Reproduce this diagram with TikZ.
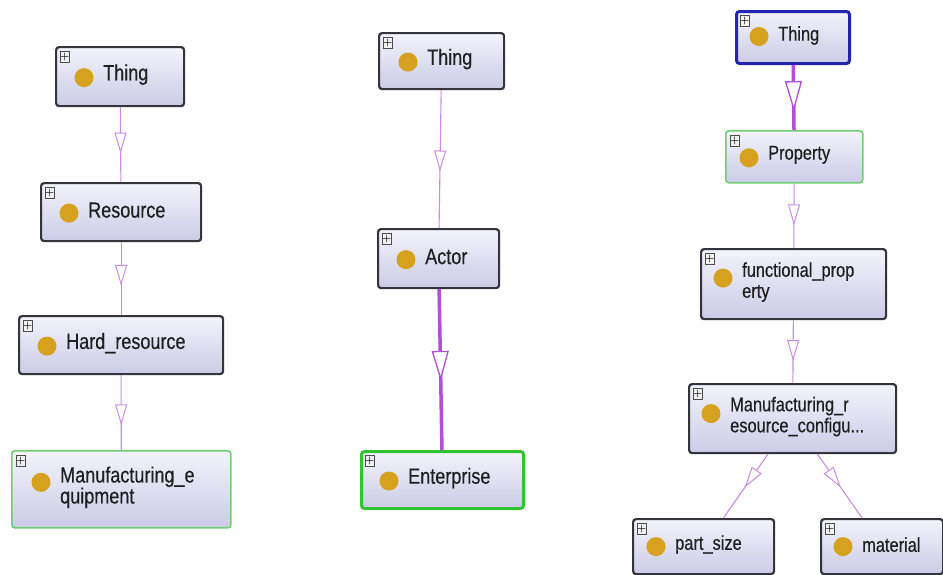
\documentclass[tikz,border=0pt]{standalone}
\usepackage{fontspec}
\newfontfamily\nodefont[FakeStretch=0.82,FakeBold=0.4]{Liberation Sans}
\usetikzlibrary{arrows.meta,decorations.markings,calc}
\definecolor{nodetop}{HTML}{F3F3FB}
\definecolor{nodebot}{HTML}{CBCBE6}
\definecolor{bordc}{HTML}{34343C}
\definecolor{greenb}{HTML}{72CD72}
\definecolor{greenB}{HTML}{30C430}
\definecolor{blueb}{HTML}{2424AE}
\definecolor{dotc}{HTML}{D6A11E}
\definecolor{edgec}{HTML}{C98BE3}
\definecolor{edgeC}{HTML}{B04FD9}
\tikzset{
 cls/.style={rectangle, rounded corners=3, draw=bordc, line width=2.2, top color=nodetop, bottom color=nodebot, inner sep=0},
 greenthin/.style={draw=greenb, line width=1.6},
 greenthick/.style={draw=greenB, line width=3},
 bluethick/.style={draw=blueb, line width=3},
 plain/.style={},
 plusbox/.style={rectangle, draw=gray!60!black, line width=0.6, fill=gray!12, minimum width=9, minimum height=11, inner sep=0, font=\fontsize{10}{10}\selectfont\bfseries},
 dot/.style={circle, fill=dotc, minimum size=19, inner sep=0},
 lbl/.style={font=\nodefont\fontsize{22}{21}\selectfont, text=black!88, align=left, inner sep=0},
 isa/.style={draw=edgec, line width=1.1, postaction={decorate}, decoration={markings, mark=at position #1 with {\arrow{Triangle[length=21pt, width=12pt, fill=white, line width=1pt]}}}},
 isathick/.style={draw=edgeC, line width=3.5, postaction={decorate}, decoration={markings, mark=at position #1 with {\arrow{Triangle[length=30pt, width=17pt, fill=white, line width=1.3pt]}}}}
}
\newcommand\owlclass[7]{%
 \node[cls,#3,#4,anchor=north west] (#1) at #2 {};
 \node[plusbox,anchor=north west] (#1-p) at ($(#1.north west)+(5,5)$) {+};
 \node[dot] (#1-d) at ($(#1.west)+(#5-19,#6)$) {};
 \node[lbl,anchor=west] (#1-t) at ($(#1.west)+(#5,-2)$) {#7};
}
\begin{document}
\begin{tikzpicture}[x=1pt,y=-1pt]
\useasboundingbox (0,0) rectangle (943,574);
% left panel
\owlclass{lt}{(55,46)}{minimum width=128,minimum height=59}{plain}{48}{1}{Thing}
\owlclass{lr}{(40,182)}{minimum width=160,minimum height=58}{plain}{48}{1}{Resource}
\owlclass{lh}{(18,315)}{minimum width=204,minimum height=58}{plain}{48}{1}{Hard\_resource}
\owlclass{lm}{(11,450)}{minimum width=219,minimum height=77}{greenthin}{49}{-7}{Manufacturing\_e\\quipment}
\draw[isa=0.62] (lt) -- (lr);
\draw[isa=0.6] (lr) -- (lh);
\draw[isa=0.67] (lh) -- (lm);
% middle panel
\owlclass{mt}{(378,32)}{minimum width=125,minimum height=56}{plain}{49}{1}{Thing}
\owlclass{ma}{(377,228)}{minimum width=121,minimum height=59}{plain}{48}{1}{Actor}
\owlclass{me}{(360,450)}{minimum width=162,minimum height=57}{greenthick}{48}{1}{Enterprise}
\draw[isa=0.59] (mt) -- (ma);
\draw[isathick=0.57] (ma) -- (me);
% right panel
\begin{scope}[lbl/.append style={font=\nodefont\fontsize{20}{21}\selectfont}]
\owlclass{rt}{(735,10)}{minimum width=113,minimum height=52}{bluethick}{43}{-1}{Thing}
\owlclass{rp}{(725,130)}{minimum width=137,minimum height=52}{greenthin}{43}{1}{Property}
\owlclass{rf}{(700,248)}{minimum width=185,minimum height=70}{plain}{42}{-6}{functional\_prop\\erty}
\owlclass{rm}{(688,383)}{minimum width=207,minimum height=69}{plain}{42}{-5}{Manufacturing\_r\\esource\_configu...}
\owlclass{rs}{(632,518)}{minimum width=141,minimum height=55}{plain}{43}{0}{part\_size}
\owlclass{rmat}{(820,518)}{minimum width=122,minimum height=55}{plain}{42}{0}{material}
\end{scope}
\draw[isathick=0.71] (rt) -- (rp);
\draw[isa=0.65] (rp) -- (rf);
\draw[isa=0.65] (rf) -- (rm);
\draw[isa=0.52] (rm) -- (rs);
\draw[isa=0.52] (rm) -- (rmat);
\end{tikzpicture}
\end{document}
